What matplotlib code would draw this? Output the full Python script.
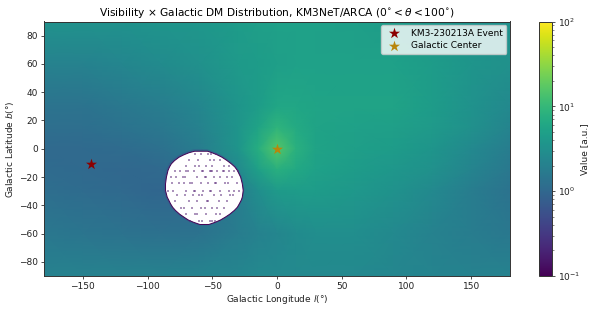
import numpy as np
import matplotlib
matplotlib.use("Agg")
import matplotlib.pyplot as plt
from matplotlib.colors import LogNorm

# grid nodes of the sky map, degrees
lons = [-180, -150, -120, -90, -60, -30, -15, 0, 15, 30, 60, 90, 120, 150, 180]
lats = [90, 60, 30, 15, 0, -15, -30, -60, -90]
# log10(value)
log_values = [
    [0.53, 0.53, 0.53, 0.56, 0.59, 0.65, 0.68, 0.71, 0.71, 0.71, 0.68, 0.65, 0.59, 0.53, 0.50],
    [0.32, 0.32, 0.38, 0.44, 0.50, 0.62, 0.65, 0.68, 0.70, 0.71, 0.71, 0.71, 0.65, 0.56, 0.50],
    [0.14, 0.14, 0.20, 0.26, 0.38, 0.56, 0.65, 0.77, 0.77, 0.75, 0.74, 0.74, 0.65, 0.53, 0.41],
    [0.08, 0.08, 0.14, 0.20, 0.32, 0.56, 0.74, 0.95, 0.82, 0.74, 0.71, 0.68, 0.62, 0.50, 0.35],
    [0.02, 0.02, 0.05, 0.11, 0.26, 0.56, 0.86, 1.20, 0.90, 0.74, 0.68, 0.65, 0.56, 0.41, 0.26],
    [0.05, 0.02, 0.00, 0.02, 0.11, 0.41, 0.68, 0.89, 0.80, 0.70, 0.65, 0.59, 0.50, 0.35, 0.20],
    [0.08, 0.05, 0.02, -0.02, 0.00, 0.26, 0.47, 0.62, 0.65, 0.65, 0.60, 0.53, 0.41, 0.26, 0.14],
    [0.20, 0.17, 0.14, 0.11, 0.14, 0.26, 0.32, 0.38, 0.44, 0.47, 0.47, 0.41, 0.32, 0.26, 0.20],
    [0.32, 0.32, 0.32, 0.32, 0.35, 0.38, 0.41, 0.41, 0.41, 0.41, 0.41, 0.38, 0.35, 0.32, 0.32],
]

# zero-visibility region outline
hole_lat = [-1.4, -2.5, -4.0, -5.6, -8.0, -10.3, -12.5, -15.0, -19.7, -24.4, -29.2,
            -33.9, -36.0, -38.6, -41.0, -43.3, -46.0, -48.0, -50.0, -51.6, -53.2]
hole_west = [-64.0, -68.5, -72.5, -76.0, -79.5, -82.0, -83.4, -84.6, -85.8, -86.5, -86.5,
             -85.2, -84.0, -82.6, -81.0, -78.8, -75.5, -72.3, -69.0, -65.0, -60.0]
hole_east = [-54.0, -50.5, -46.5, -43.0, -39.0, -35.7, -33.0, -31.0, -28.5, -27.2, -26.5,
             -27.2, -28.0, -29.5, -31.0, -33.4, -37.0, -40.3, -44.0, -48.0, -53.0]

# isolated low-value cells inside the region
speck_lon = [-63, -59, -53, -51, -47, -68, -61, -52, -49, -44,
             -70, -63, -60, -55, -50, -41, -37,
             -79, -75, -70, -69, -64, -58, -57, -52, -51, -50, -46, -42, -41, -37, -33, -30,
             -82, -78, -73, -71, -62, -56, -55, -49, -44, -39, -35,
             -81, -76, -72, -67, -66, -59, -53, -48, -47, -40, -38, -31,
             -84, -80, -70, -64, -63, -57, -52, -51, -44, -37, -33, -29,
             -77, -71, -65, -60, -58, -49, -43, -36, -34,
             -79, -68, -62, -54, -53, -45, -39,
             -74, -72, -66, -59, -56, -50, -46, -41,
             -70, -63, -62, -55, -47, -44,
             -67, -60, -58, -52, -50, -48]
speck_lat = [-4, -4, -4, -4, -4, -8, -8, -8, -8, -8,
             -12, -12, -12, -12, -12, -12, -12,
             -16, -16, -16, -16, -16, -16, -16, -16, -16, -16, -16, -16, -16, -16, -16, -16,
             -20, -20, -20, -20, -20, -20, -20, -20, -20, -20, -20,
             -24, -24, -24, -24, -24, -24, -24, -24, -24, -24, -24, -24,
             -30, -30, -30, -30, -30, -30, -30, -30, -30, -30, -30, -30,
             -33, -33, -33, -33, -33, -33, -33, -33, -33,
             -37, -37, -37, -37, -37, -37, -37,
             -42, -42, -42, -42, -42, -42, -42, -42,
             -46, -46, -46, -46, -46, -46,
             -51, -51, -51, -51, -51, -51]

event_lon, event_lat = [-144], [-11]
gc_lon, gc_lat = [0], [0]

fig = plt.figure(figsize=(5.98, 3.11), dpi=100)
ax = fig.add_axes([44 / 598, 1 - 276 / 311, 466 / 598, 254.5 / 311])
cax = fig.add_axes([539 / 598, 1 - 276 / 311, 13 / 598, 254.5 / 311])

norm = LogNorm(vmin=0.1, vmax=100)
Z = 10 ** np.array(log_values)
mesh = ax.pcolormesh(lons, lats, Z, cmap="viridis", norm=norm, shading="gouraud", zorder=1)

ax.fill_betweenx(hole_lat, hole_west, hole_east, facecolor="none",
                 edgecolor="#3b528b", linewidth=2.2, alpha=0.4, zorder=2)
ax.fill_betweenx(hole_lat, hole_west, hole_east, facecolor="white",
                 edgecolor="#440154", linewidth=0.7, zorder=3)
ax.scatter(speck_lon, speck_lat, marker="s", s=1.0, color="#5b2a7a", alpha=0.5,
           linewidths=0, zorder=4)

ax.scatter(event_lon, event_lat, marker="*", s=70, color="darkred", zorder=5,
           linewidths=0, label="KM3-230213A Event")
ax.scatter(gc_lon, gc_lat, marker="*", s=70, color="darkgoldenrod", zorder=5,
           linewidths=0, label="Galactic Center")

ax.set_xlim(-180, 180)
ax.set_ylim(-90, 90)
ax.set_xticks([-150, -100, -50, 0, 50, 100, 150])
ax.set_yticks([-80, -60, -40, -20, 0, 20, 40, 60, 80])
ax.tick_params(labelsize=6.5, length=2.5, width=0.6, pad=2, color="#333333", labelcolor="#222222")
ax.set_xlabel(r"Galactic Longitude $l$(°)", fontsize=6.5, labelpad=1.5, color="#222222")
ax.set_ylabel(r"Galactic Latitude $b$(°)", fontsize=6.5, labelpad=2, color="#222222")
ax.set_title(r"Visibility × Galactic DM Distribution, KM3NeT/ARCA ($0^{\circ} < \theta < 100^{\circ}$)",
             fontsize=7.7, pad=4)
for s in ax.spines.values():
    s.set_linewidth(0.7)
    s.set_color("#333333")

leg = ax.legend(loc="upper right", fontsize=6.5, framealpha=0.8, borderaxespad=0.4,
                handletextpad=0.9, labelspacing=0.4, borderpad=0.4)

cb = fig.colorbar(mesh, cax=cax)
cb.set_label("Value [a.u.]", fontsize=6.5, labelpad=0, color="#222222")
cb.ax.tick_params(labelsize=6.5, length=2.5, width=0.6, pad=2, color="#333333", labelcolor="#222222")
cb.ax.tick_params(which="minor", length=1.5, width=0.4, color="#333333")
cb.outline.set_linewidth(0.7)
cb.outline.set_edgecolor("#333333")

fig.savefig("out.png", dpi=100)
